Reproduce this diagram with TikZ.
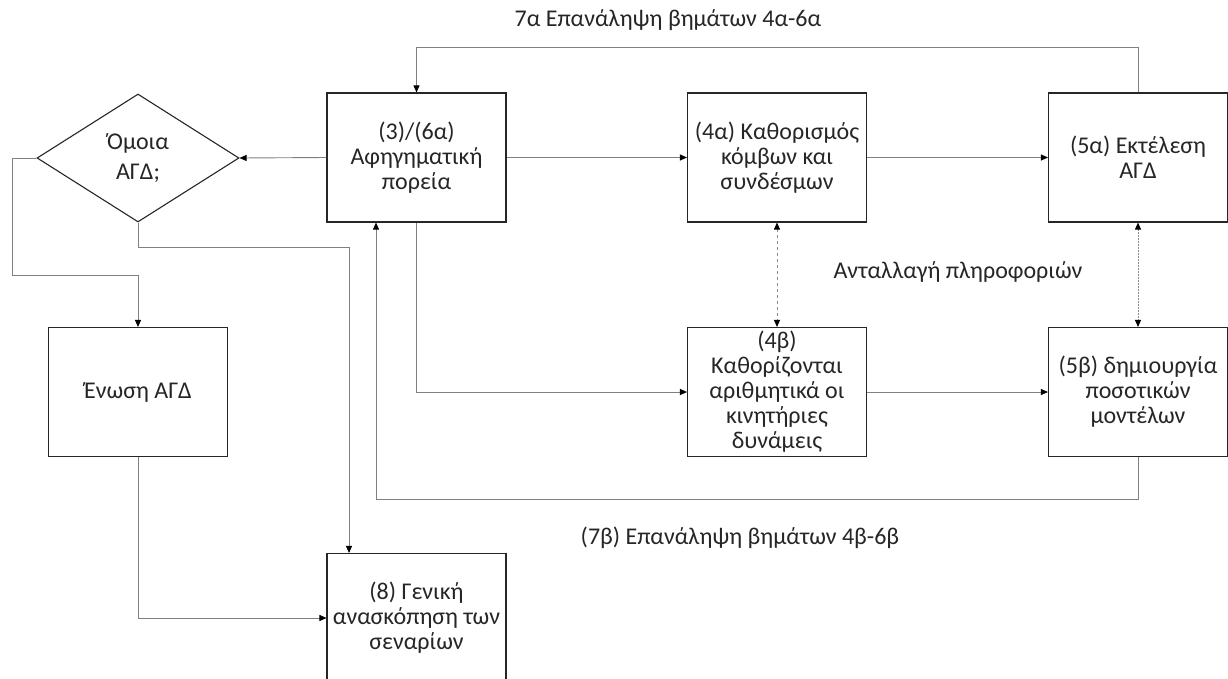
\documentclass[tikz,border=0pt]{standalone}
\usepackage{fontspec}
\setmainfont{Carlito}
\usetikzlibrary{arrows.meta,shapes.geometric}

\begin{document}
\begin{tikzpicture}[x=1pt,y=-1pt,
  txt/.style={font=\fontsize{24}{25}\selectfont, text=black!85},
  box/.style={txt, draw=black!85, line width=1.1pt, minimum width=179pt,
    minimum height=129pt, inner sep=0pt, align=center},
  decision/.style={txt, diamond, draw=black!85, line width=1.1pt,
    minimum width=202pt, minimum height=128pt, inner sep=0pt, align=center,
    font=\fontsize{24}{30}\selectfont},
  tip/.tip={Triangle[length=7pt,width=6pt,color=black]},
  link/.style={draw=black!50, line width=0.9pt, -tip},
  exch/.style={draw=black!45, line width=0.9pt, tip-tip},
  caption/.style={txt, inner sep=0pt}]

\useasboundingbox (0,0) rectangle (1228,678);

% decision and process boxes
\node[decision] (D) at (138,158) {Όμοια\\ΑΓΔ;};
\node[box] (B3) at (416.5,157.5) {(3)/(6α)\\Αφηγηματική\\πορεία};
\node[box] (B4a) at (777,157.5) {(4α) Καθορισμός\\κόμβων και\\συνδέσμων};
\node[box] (B5a) at (1138,157.5) {(5α) Εκτέλεση\\ΑΓΔ};
\node[box] (B4b) at (777,392) {(4β)\\Καθορίζονται\\αριθμητικά οι\\κινητήριες\\δυνάμεις};
\node[box] (B5b) at (1138,392) {(5β) δημιουργία\\ποσοτικών\\μοντέλων};
\node[box] (E) at (138,392) {Ένωση ΑΓΔ};
\node[box] (B8) at (416.5,618) {(8) Γενική\\ανασκόπηση των\\σεναρίων};

% captions
\node[caption] (L7a) at (668,20) {7α Επανάληψη βημάτων 4α-6α};
\node[caption] (Lx) at (958,272) {Ανταλλαγή πληροφοριών};
\node[caption] (L7b) at (740,538) {(7β) Επανάληψη βημάτων 4β-6β};

% main flow
\draw[link] (B3.west) -- (D.east);
\draw[link] (B3.east) -- (B4a.west);
\draw[link] (B4a.east) -- (B5a.west);
\draw[link] (B4b.east) -- (B5b.west);
\draw[link] (B3.south) |- (B4b.west);

% loop 7a
\draw[link] (B5a.north) -- ++(0,-45) -| (B3.north);
% loop 7b
\draw[link] (B5b.south) -- ++(0,42) -| ([xshift=-40.5pt]B3.south);

% decision branches
\draw[link] (D.west) -- ++(-24,0) -- ++(0,117) -| (E.north);
\draw[link] (D.south) -- ++(0,25) -| ([xshift=-67.5pt]B8.north);
\draw[link] (E.south) |- (B8.west);

% information exchange
\draw[exch, dashed] (B4a.south) -- (B4b.north);
\draw[exch, dash pattern=on 1.5pt off 1.5pt] (B5a.south) -- (B5b.north);
\end{tikzpicture}
\end{document}
